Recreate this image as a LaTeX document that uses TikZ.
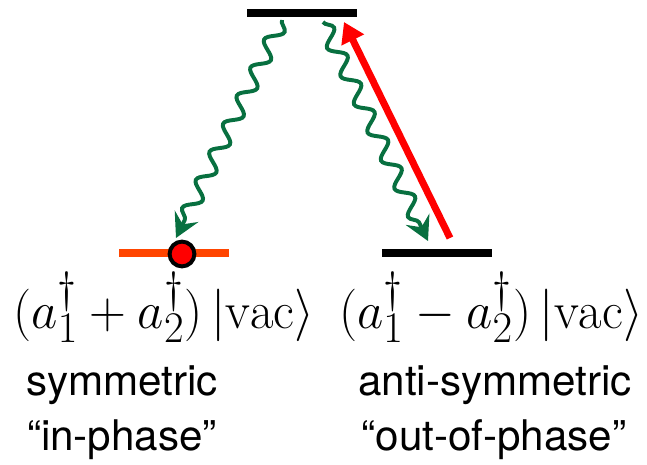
\documentclass[tikz,border=0pt]{standalone}
\usepackage{graphicx}
\usepackage{fontspec}
\setsansfont{TeX Gyre Heros}
\usetikzlibrary{arrows.meta, decorations.pathmorphing}
\definecolor{verde}{RGB}{8,112,64}
\definecolor{laranja}{RGB}{255,69,0}
\begin{document}
\begin{tikzpicture}[
    x=0.025cm, y=-0.025cm,
    nivel/.style={
        fill=black,
        minimum width=2.75cm,
        minimum height=0.18cm,
        inner sep=0pt
    },
    onda/.style={
        verde,
        line width=2.8pt,
        decorate,
        decoration={snake, amplitude=0.19cm, segment length=0.78cm, post length=0.5cm},
        -{Stealth[length=0.6cm, width=0.65cm, inset=0.22cm]}
    },
    seta/.style={
        red,
        line width=5pt,
        -{Triangle[length=0.5cm, width=0.6cm]}
    },
    rotulo/.style={
        font=\sffamily\fontsize{30}{36}\selectfont
    },
    estado/.style={
        font=\Huge
    }
]
\useasboundingbox (0,0) rectangle (647,465);

% niveis
\node[nivel] (topo) at (302,13) {};
\node[nivel, fill=laranja] (sim) at (174,253) {};
\node[nivel] (anti) at (437,253) {};
\node[circle, fill=red, draw=black, line width=0.1cm, minimum size=0.62cm] (bola) at (182,254) {};

% pontas das setas
\coordinate (o1) at (282,20);
\coordinate (f1) at (176,238);
\coordinate (o2) at (323,22);
\coordinate (f2) at (428,241);
\coordinate (s1) at (450,238);
\coordinate (s2) at (344,22);

\draw[onda] (o1) -- (f1);
\draw[onda] (o2) -- (f2);
\draw[seta] (s1) -- (s2);

% textos
\node[estado] (ksim) at (164,307) {\scalebox{1.46}[1.5]{$(a_1^\dagger + a_2^\dagger)\,|\mathrm{vac}\rangle$}};
\node[estado] (kanti) at (491,307) {\scalebox{1.46}[1.5]{$(a_1^\dagger - a_2^\dagger)\,|\mathrm{vac}\rangle$}};
\node[rotulo] (tsim) at (122,385) {symmetric};
\node[rotulo] (tanti) at (495,385) {anti-symmetric};
\node[rotulo] (fsim) at (122,440) {“in-phase”};
\node[rotulo] (fanti) at (494,440) {“out-of-phase”};

\end{tikzpicture}
\end{document}
